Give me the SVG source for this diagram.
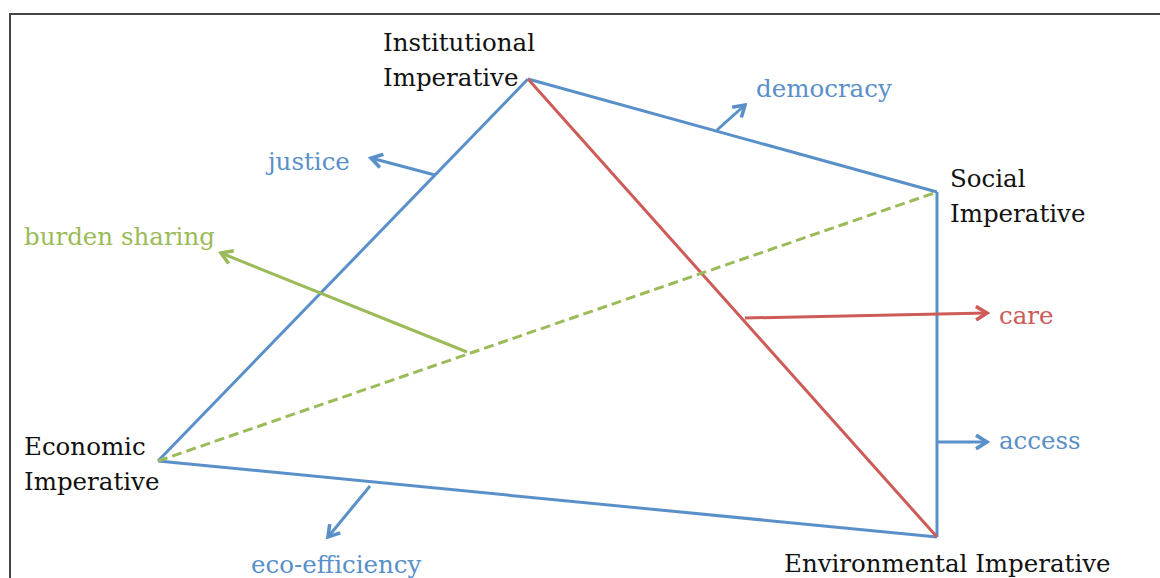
<svg xmlns="http://www.w3.org/2000/svg" width="1160" height="578" viewBox="0 0 1160 578">
<style>
.lbl{font-family:"DejaVu Serif","Liberation Serif",serif;font-size:24.5px;fill:#111}
.tb{fill:#5a90c9}.tr{fill:#cd5b57}.tg{fill:#9bbb59}
.blue{stroke:#5a90c9;stroke-width:3;fill:none}
.red{stroke:#cd5b57;stroke-width:3;fill:none}
.green{stroke:#9bbb59;stroke-width:3;fill:none}
</style>
<defs>
<marker id="ab" viewBox="0 0 12 12" refX="10" refY="6" markerWidth="5.5" markerHeight="5.5" orient="auto" markerUnits="strokeWidth"><path d="M2,1 L10,6 L2,11" fill="none" stroke="#5a90c9" stroke-width="2.6"/></marker>
<marker id="ar" viewBox="0 0 12 12" refX="10" refY="6" markerWidth="5.5" markerHeight="5.5" orient="auto" markerUnits="strokeWidth"><path d="M2,1 L10,6 L2,11" fill="none" stroke="#cd5b57" stroke-width="2.6"/></marker>
<marker id="ag" viewBox="0 0 12 12" refX="10" refY="6" markerWidth="5.5" markerHeight="5.5" orient="auto" markerUnits="strokeWidth"><path d="M2,1 L10,6 L2,11" fill="none" stroke="#9bbb59" stroke-width="2.6"/></marker>
</defs>
<rect width="1160" height="578" fill="#fff"/>
<path d="M10,578 L10,14 L1160,14" fill="none" stroke="#444" stroke-width="2"/>
<g id="connectors">
<line class="blue" x1="528" y1="79" x2="158" y2="461"/>
<line class="blue" x1="528" y1="79" x2="937" y2="192"/>
<line class="blue" x1="937" y1="192" x2="937" y2="537"/>
<line class="blue" x1="158" y1="461" x2="937" y2="537"/>
<line class="red" x1="528" y1="79" x2="937" y2="537"/>
<line class="green" x1="158" y1="461" x2="937" y2="192" stroke-dasharray="10,5" stroke-width="3.5"/>
<line class="blue" x1="435" y1="175" x2="371" y2="158" marker-end="url(#ab)"/>
<line class="blue" x1="717" y1="130" x2="745" y2="105" marker-end="url(#ab)"/>
<line class="green" x1="467" y1="352" x2="221" y2="253" marker-end="url(#ag)"/>
<line class="red" x1="745" y1="318" x2="987" y2="313" marker-end="url(#ar)"/>
<line class="blue" x1="937" y1="442" x2="987" y2="442" marker-end="url(#ab)"/>
<line class="blue" x1="370" y1="486" x2="328" y2="537" marker-end="url(#ab)"/>
</g>
<g id="institutional"><text class="lbl" x="383" y="51">Institutional</text><text class="lbl" x="383" y="86">Imperative</text></g>
<g id="social"><text class="lbl" x="950" y="187">Social</text><text class="lbl" x="950" y="222">Imperative</text></g>
<g id="economic"><text class="lbl" x="24" y="455">Economic</text><text class="lbl" x="24" y="490">Imperative</text></g>
<g id="environmental"><text class="lbl" x="784" y="572">Environmental Imperative</text></g>
<g id="justice"><text class="lbl tb" x="268" y="170">justice</text></g>
<g id="democracy"><text class="lbl tb" x="756" y="97">democracy</text></g>
<g id="burden"><text class="lbl tg" x="24" y="245">burden sharing</text></g>
<g id="care"><text class="lbl tr" x="999" y="324">care</text></g>
<g id="access"><text class="lbl tb" x="999" y="449">access</text></g>
<g id="eco"><text class="lbl tb" x="251" y="573">eco-efficiency</text></g>
</svg>
